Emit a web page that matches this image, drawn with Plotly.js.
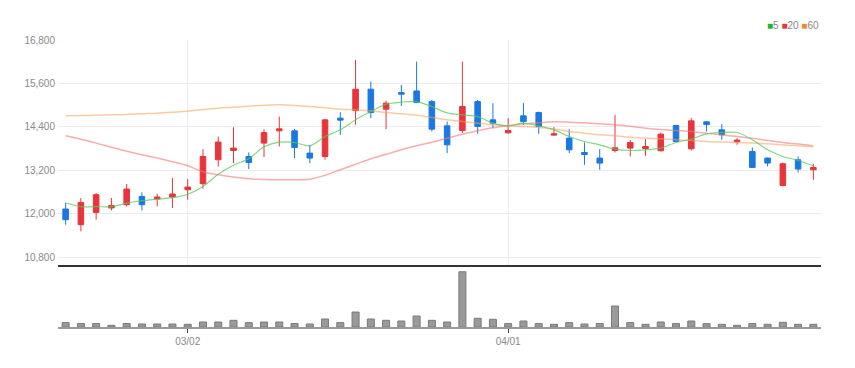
<!DOCTYPE html>
<html>
<head>
<meta charset="utf-8">
<script src="https://cdn.plot.ly/plotly-3.0.1.min.js"></script>
<style>html,body{margin:0;padding:0;background:#fff;}#chart{width:855px;height:368px;}</style>
</head>
<body>
<div id="chart"></div>
<script>
const dates = [
  "2022-02-17","2022-02-18","2022-02-21","2022-02-22","2022-02-23","2022-02-24","2022-02-25","2022-02-28",
  "2022-03-02","2022-03-03","2022-03-04","2022-03-07","2022-03-08","2022-03-10","2022-03-11","2022-03-14",
  "2022-03-15","2022-03-16","2022-03-17","2022-03-18","2022-03-21","2022-03-22","2022-03-23","2022-03-24",
  "2022-03-25","2022-03-28","2022-03-29","2022-03-30","2022-03-31",
  "2022-04-01","2022-04-04","2022-04-05","2022-04-06","2022-04-07","2022-04-08","2022-04-11","2022-04-12",
  "2022-04-13","2022-04-14","2022-04-15","2022-04-18","2022-04-19","2022-04-20","2022-04-21","2022-04-22",
  "2022-04-25","2022-04-26","2022-04-27","2022-04-28","2022-04-29"
];
const openP  = [12129,11696,12035,12157,12248,12477,12405,12460,12661,12827,13489,13746,13580,13950,14289,14289,
                13674,13580,14640,14849,15440,14888,15346,15393,15098,14427,14298,15098,14593,14234,14703,14794,
                14171,14088,13691,13536,13746,13812,13801,13738,14436,13793,14538,14317,13986,13718,13536,12780,13489,13213];
const highP  = [12295,12432,12570,12432,12819,12587,12551,12984,12957,13784,14132,14391,13691,14336,14684,14344,
                13903,14612,14805,16248,15650,15125,15558,16201,15145,14546,16201,15145,15054,14640,15054,14822,
                14391,14336,13966,13784,14731,14041,14060,14242,14455,14640,14565,14474,14088,13829,13553,13415,13580,13379];
const lowP   = [11696,11511,11834,12090,12201,12090,12201,12157,12386,12689,13304,13398,13233,13564,13856,13536,
                13398,13489,14179,14455,14640,14336,14979,15054,14270,13674,14226,14207,14364,14207,14455,14207,
                14151,13674,13351,13213,13691,13580,13600,13718,13978,13746,14270,14041,13903,13260,13304,12753,13139,12937];
const closeP = [11834,12311,12524,12228,12681,12248,12460,12543,12736,13580,13978,13812,13415,14242,14344,13829,
                13536,14593,14585,15440,14794,15054,15302,15070,14336,13903,14960,14408,14502,14298,14546,14408,
                14207,13765,13635,13398,13820,13966,13856,14198,13994,14565,14463,14179,14033,13277,13398,13379,13233,13277];
const ma5  = [12303,12193,12193,12193,12289,12358,12400,12441,12537,12753,13089,13338,13517,13848,13978,13967,
              13876,14132,14317,14593,14822,15026,15081,15098,14960,14786,14731,14684,14502,14428,14502,14428,
              14317,14132,13994,13903,13785,13746,13765,13812,13967,14061,14207,14243,14243,14041,13765,13581,13470,13324];
const ma20 = [14152,14055,13950,13834,13724,13628,13536,13434,13324,13159,13076,13012,12965,12946,12938,12938,
              12952,13062,13214,13365,13517,13641,13765,13876,13972,14083,14193,14290,14372,14428,14475,14510,
              14538,14530,14510,14483,14455,14419,14364,14326,14298,14270,14221,14179,14132,14083,14022,13967,13923,13876];
const ma60 = [14704,14711,14722,14731,14739,14759,14778,14805,14833,14877,14916,14943,14971,14998,15007,14993,
              14965,14924,14888,14869,14842,14795,14759,14722,14657,14593,14546,14502,14455,14428,14408,14381,
              14337,14270,14226,14179,14152,14110,14088,14069,14041,14022,13994,13978,13967,13950,13931,13903,13876,13840];
const volume = [88000,68000,68000,34000,68000,60000,60000,60000,54000,100000,100000,134000,88000,100000,100000,68000,
                60000,160000,88000,300000,160000,134000,120000,220000,134000,100000,1106000,174000,154000,68000,120000,68000,
                54000,88000,60000,68000,420000,88000,54000,100000,68000,120000,68000,54000,34000,68000,54000,94000,54000,54000];
const yTicks = [10800,12000,13200,14400,15600,16800];
const xTickVals = ["2022-03-02","2022-04-01"];
const xTickText = ["03/02","04/01"];
const legendNames = ["5","20","60"];

const UP = "#e8343b", DOWN = "#1b78e2";
const FONT = "Liberation Sans Narrow, Arial Narrow, sans-serif";

const traces = [
  {type:"scatter", mode:"lines", x:dates, y:ma20, line:{color:"rgba(242,120,120,0.6)", width:1.5, shape:"spline", smoothing:1}, hoverinfo:"skip", xaxis:"x", yaxis:"y"},
  {type:"scatter", mode:"lines", x:dates, y:ma60, line:{color:"rgba(245,160,90,0.55)", width:1.5, shape:"spline", smoothing:1}, hoverinfo:"skip", xaxis:"x", yaxis:"y"},
  {type:"scatter", mode:"lines", x:dates, y:ma5, line:{color:"rgba(90,200,90,0.75)", width:1.2, shape:"spline", smoothing:0.8}, hoverinfo:"skip", xaxis:"x", yaxis:"y"},
  {type:"candlestick", x:dates, open:openP, high:highP, low:lowP, close:closeP, xaxis:"x", yaxis:"y",
   increasing:{line:{color:UP, width:1}, fillcolor:UP},
   decreasing:{line:{color:DOWN, width:1}, fillcolor:DOWN},
   whiskerwidth:0},
  {type:"bar", x:dates, y:volume, xaxis:"x2", yaxis:"y2",
   marker:{color:"#9a9a9a", line:{color:"#7a7a7a", width:1}}, width:0.46}
];

const layout = {
  width:855, height:368,
  margin:{l:58, r:34, t:40, b:40.5},
  paper_bgcolor:"#fff", plot_bgcolor:"#fff",
  showlegend:false,
  boxgap:0.48,
  font:{family:FONT, size:10, color:"#888"},
  xaxis:{type:"category", domain:[0,1], anchor:"y", range:[-0.5,49.5], rangeslider:{visible:false},
         tickvals:xTickVals, ticktext:xTickText, showticklabels:false, ticks:"",
         showgrid:true, gridcolor:"#ececec", gridwidth:1,
         showline:true, linecolor:"#333", linewidth:2, zeroline:false, fixedrange:true},
  yaxis:{domain:[0.2174,1], anchor:"x", range:[10592,16800], tickvals:yTicks, tickformat:",d",
         showgrid:true, gridcolor:"#ececec", gridwidth:1, zeroline:false, showline:false, ticks:"",
         tickfont:{family:FONT, size:10, color:"#8a8a8a"}, ticklabelstandoff:2},
  xaxis2:{type:"category", domain:[0,1], anchor:"y2", matches:"x", range:[-0.5,49.5],
          tickvals:xTickVals, ticktext:xTickText, showgrid:false,
          showline:true, linecolor:"#9a9a9a", linewidth:2, ticks:"outside", ticklen:4, tickcolor:"#444", tickwidth:1,
          tickfont:{family:FONT, size:10, color:"#8a8a8a"}, zeroline:false},
  yaxis2:{domain:[0,0.207], anchor:"x2", range:[0,1190000], showgrid:false, showticklabels:false, zeroline:false, showline:false, ticks:""},
  annotations:[{
    xref:"paper", yref:"paper", x:1, y:1.052, xanchor:"right", yanchor:"middle", showarrow:false,
    text:"<span style='color:#22b52a'>■</span>"+legendNames[0]+" <span style='color:#e8343b'>■</span>"+legendNames[1]+" <span style='color:#f08a2a'>■</span>"+legendNames[2],
    font:{family:FONT, size:10, color:"#888"}
  }]
};

Plotly.newPlot("chart", traces, layout, {displayModeBar:false, staticPlot:true});
</script>
</body>
</html>
